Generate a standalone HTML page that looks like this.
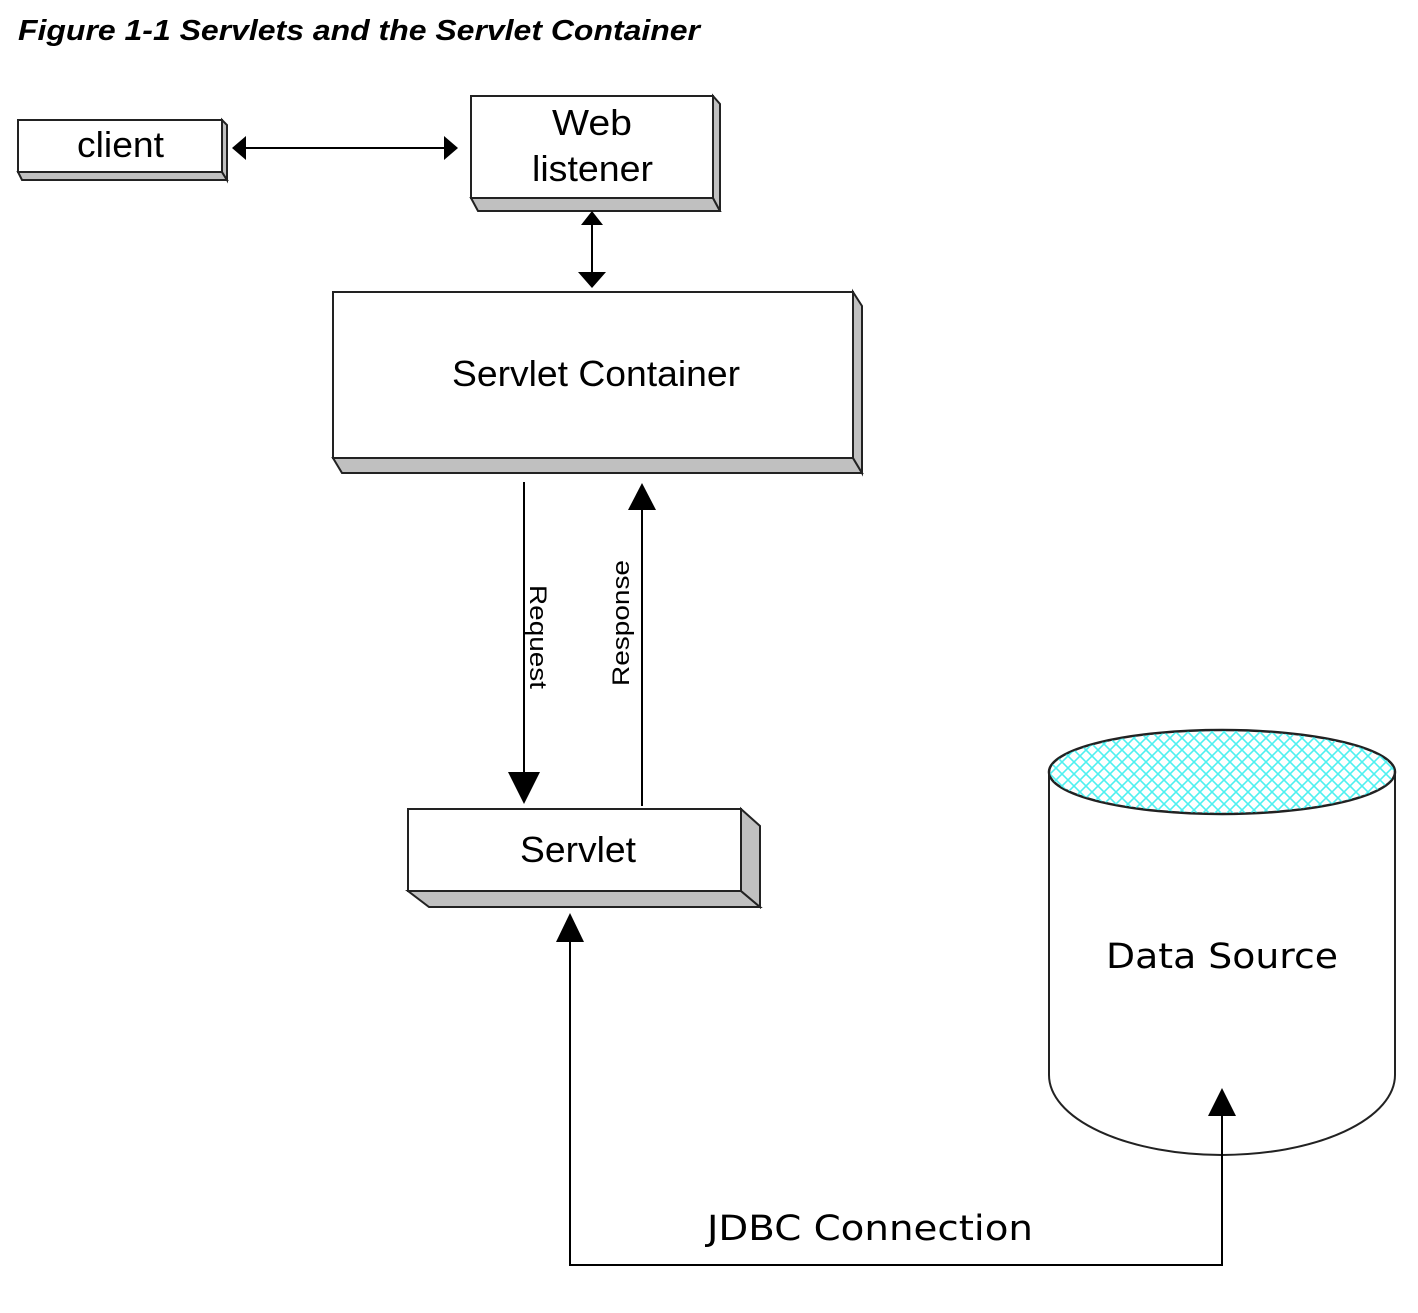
<!DOCTYPE html>
<html><head><meta charset="utf-8"><style>html,body{margin:0;padding:0;background:#fff}</style></head>
<body>
<svg width="1418" height="1308" viewBox="0 0 1418 1308" xmlns="http://www.w3.org/2000/svg" font-family="Liberation Sans, Arial, sans-serif">
<defs>
<pattern id="hatch" width="12" height="12" patternUnits="userSpaceOnUse">
<path d="M0 0L12 12M12 0L0 12" stroke="#4ff0f0" stroke-width="1.6"/>
</pattern>
</defs>
<rect width="1418" height="1308" fill="#fff"/>
<text x="18" y="40" font-size="29" font-weight="bold" font-style="italic" textLength="682" lengthAdjust="spacingAndGlyphs">Figure 1-1 Servlets and the Servlet Container</text>

<g stroke="#222" stroke-width="2" fill="#c0c0c0">
<polygon points="18,172 222,172 227,180 22,180"/>
<polygon points="222,120 227,125 227,180 222,172"/>
<rect x="18" y="120" width="204" height="52" fill="#fff"/>
<polygon points="471,198 713,198 720,211 478,211"/>
<polygon points="713,96 720,104 720,211 713,198"/>
<rect x="471" y="96" width="242" height="102" fill="#fff"/>
<polygon points="333,458 853,458 862,473 342,473"/>
<polygon points="853,292 862,306 862,473 853,458"/>
<rect x="333" y="292" width="520" height="166" fill="#fff"/>
<polygon points="408,891 741,891 760,907 429,907"/>
<polygon points="741,809 760,826 760,907 741,891"/>
<rect x="408" y="809" width="333" height="82" fill="#fff"/>
</g>

<g font-size="36" fill="#000" lengthAdjust="spacingAndGlyphs">
<text x="77" y="157" textLength="87" lengthAdjust="spacingAndGlyphs">client</text>
<text x="552" y="135" textLength="80" lengthAdjust="spacingAndGlyphs">Web</text>
<text x="532" y="181" textLength="121" lengthAdjust="spacingAndGlyphs">listener</text>
<text x="452" y="386" textLength="288" lengthAdjust="spacingAndGlyphs">Servlet Container</text>
<text x="520" y="862" textLength="116" lengthAdjust="spacingAndGlyphs">Servlet</text>
</g>

<path d="M1049,772 L1049,1075 A173,80 0 0 0 1395,1075 L1395,772" fill="#fff" stroke="#222" stroke-width="2"/>
<ellipse cx="1222" cy="772" rx="173" ry="42" fill="#fff" stroke="#222" stroke-width="2.5"/>
<ellipse cx="1222" cy="772" rx="172" ry="41" fill="url(#hatch)"/>
<text x="1222" y="968" font-family="DejaVu Sans, sans-serif" font-size="35" text-anchor="middle" textLength="232" lengthAdjust="spacingAndGlyphs">Data Source</text>

<g stroke="#000" stroke-width="2" fill="none">
<line x1="240" y1="148" x2="446" y2="148"/>
<line x1="592" y1="222" x2="592" y2="276"/>
<line x1="524" y1="482" x2="524" y2="775"/>
<line x1="642" y1="508" x2="642" y2="806"/>
<polyline points="570,935 570,1265 1222,1265 1222,1110"/>
</g>
<g fill="#000">
<polygon points="232,148 246,136 246,160"/>
<polygon points="458,148 444,136 444,160"/>
<polygon points="592,211 581,225 603,225"/>
<polygon points="592,288 578,272 606,272"/>
<polygon points="524,804 508,772 540,772"/>
<polygon points="642,483 628,510 656,510"/>
<polygon points="570,913 556,942 584,942"/>
<polygon points="1222,1088 1208,1116 1236,1116"/>
</g>
<text transform="translate(530,637) rotate(90)" font-size="24" text-anchor="middle" textLength="104" lengthAdjust="spacingAndGlyphs">Request</text>
<text transform="translate(629,623) rotate(-90)" font-size="24" text-anchor="middle" textLength="126" lengthAdjust="spacingAndGlyphs">Response</text>
<text x="870" y="1240" font-family="DejaVu Sans, sans-serif" font-size="35" text-anchor="middle" textLength="326" lengthAdjust="spacingAndGlyphs">JDBC Connection</text>
</svg>
</body></html>
